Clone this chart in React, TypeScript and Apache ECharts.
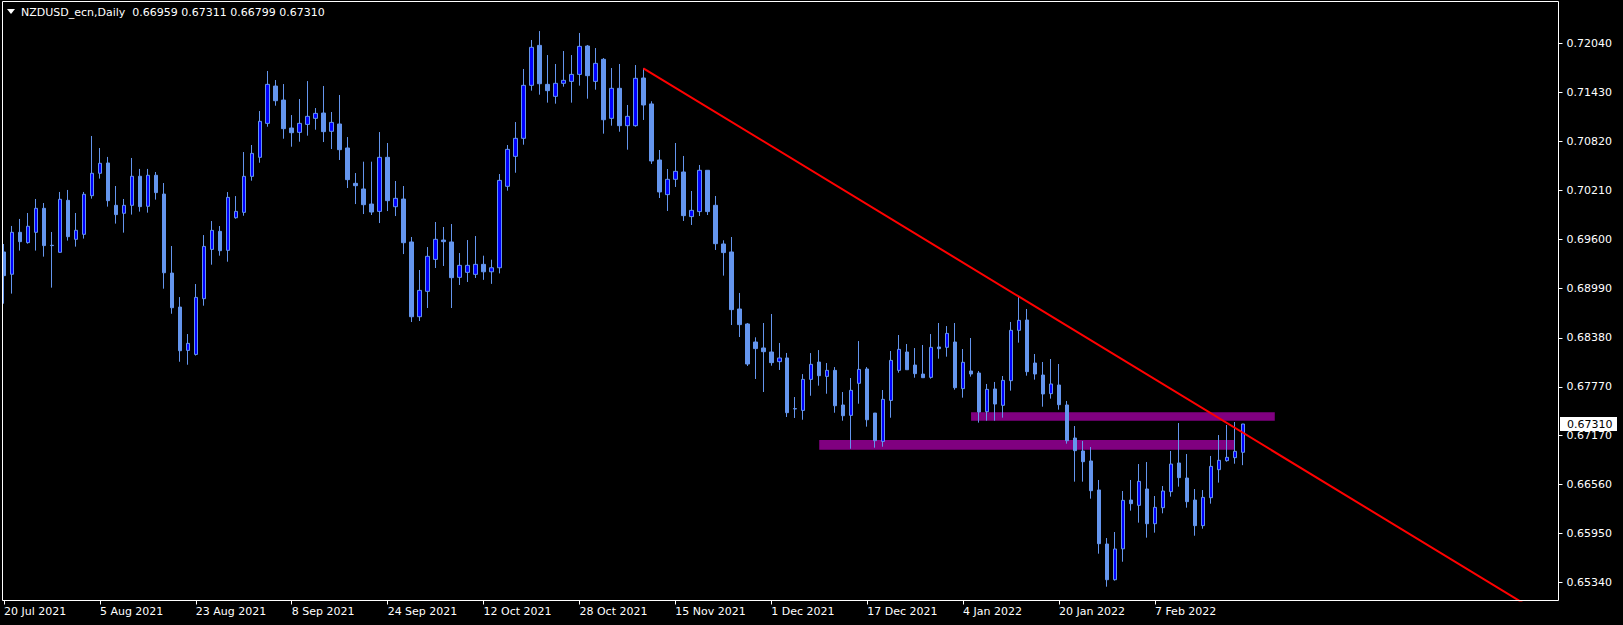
import React, { useEffect, useRef } from "react";
import * as echarts from "echarts";

const SYMBOL = "NZDUSD_ecn,Daily";
const START_DATE = "2021-07-20";
const FUTURE_SLOTS = 39;

const OPEN = [
  0.69446, 0.69169, 0.6969, 0.69562, 0.6969, 0.69988, 0.69529, 0.69442, 0.70087, 0.69603,
  0.69665, 0.70145, 0.70423, 0.70551, 0.70025, 0.69926, 0.70025, 0.70386, 0.70013, 0.70398,
  0.70165, 0.69184, 0.68762, 0.68224, 0.68174, 0.68866, 0.69478, 0.69702, 0.69466, 0.69871,
  0.69938, 0.70385, 0.70621, 0.71043, 0.71506, 0.71332, 0.70985, 0.70931, 0.7103, 0.71105,
  0.71171, 0.70944, 0.71035, 0.70737, 0.70298, 0.70228, 0.70041, 0.6995, 0.70621, 0.70008,
  0.70103, 0.6957, 0.68642, 0.68957, 0.69354, 0.69594, 0.6957, 0.69131, 0.69193, 0.69168,
  0.69292, 0.692, 0.6925, 0.70261, 0.70633, 0.70857, 0.71515, 0.72011, 0.71527, 0.71378,
  0.7154, 0.71564, 0.71651, 0.72003, 0.71564, 0.71838, 0.71105, 0.71478, 0.71014, 0.71014,
  0.71606, 0.71284, 0.70588, 0.70158, 0.70348, 0.70439, 0.69885, 0.69947, 0.7046, 0.70025,
  0.69545, 0.69446, 0.68738, 0.68552, 0.68328, 0.68254, 0.68204, 0.68084, 0.6813, 0.67501,
  0.67479, 0.67864, 0.68079, 0.67901, 0.67976, 0.67546, 0.67417, 0.67815, 0.67993, 0.67446,
  0.67094, 0.67603, 0.67976, 0.68204, 0.68042, 0.6793, 0.67889, 0.68266, 0.68262, 0.68328,
  0.67749, 0.67968, 0.67943, 0.67463, 0.67745, 0.67542, 0.67848, 0.68473, 0.68601, 0.68067,
  0.67918, 0.67687, 0.67794, 0.67546, 0.67136, 0.66975, 0.66851, 0.66491, 0.6582, 0.65377,
  0.6576, 0.66366, 0.663, 0.66503, 0.66072, 0.66271, 0.6647, 0.66826, 0.66639, 0.66366,
  0.66048, 0.66395, 0.66743, 0.66855, 0.66892, 0.66959,
];

const HIGH = [
  0.69545, 0.69769, 0.69856, 0.6993, 0.70104, 0.70054, 0.69694, 0.70191, 0.70216, 0.6993,
  0.70191, 0.70886, 0.70737, 0.70626, 0.70265, 0.70104, 0.70613, 0.70477, 0.70477, 0.70439,
  0.70302, 0.6952, 0.68886, 0.68427, 0.69048, 0.69656, 0.6983, 0.69768, 0.7019, 0.7014,
  0.70687, 0.70774, 0.71196, 0.71693, 0.71581, 0.71531, 0.71146, 0.71345, 0.71568, 0.71233,
  0.71507, 0.71184, 0.71395, 0.70873, 0.70426, 0.70567, 0.70567, 0.70935, 0.70799, 0.70327,
  0.70265, 0.69632, 0.69222, 0.69507, 0.69818, 0.69756, 0.69793, 0.69433, 0.69594, 0.69644,
  0.694, 0.6935, 0.70414, 0.70774, 0.71059, 0.71718, 0.72078, 0.72189, 0.71891, 0.7178,
  0.71941, 0.71891, 0.72165, 0.72016, 0.71978, 0.71854, 0.7173, 0.7178, 0.71271, 0.71767,
  0.71726, 0.71317, 0.70712, 0.70476, 0.70799, 0.70638, 0.70203, 0.70526, 0.7046, 0.70141,
  0.69591, 0.69632, 0.68937, 0.68564, 0.68386, 0.68564, 0.68676, 0.68316, 0.68192, 0.67645,
  0.6793, 0.68191, 0.68228, 0.68067, 0.68017, 0.67707, 0.67881, 0.6834, 0.68017, 0.67446,
  0.67732, 0.68216, 0.68415, 0.68303, 0.68253, 0.68291, 0.68427, 0.68564, 0.68526, 0.68564,
  0.68241, 0.68378, 0.67968, 0.67807, 0.67832, 0.67906, 0.68577, 0.68891, 0.68738, 0.68179,
  0.6808, 0.68117, 0.68055, 0.67596, 0.67285, 0.67099, 0.67024, 0.66615, 0.65894, 0.65969,
  0.66478, 0.66615, 0.66813, 0.66838, 0.66416, 0.6654, 0.66975, 0.67322, 0.66937, 0.66503,
  0.6649, 0.66913, 0.67173, 0.67298, 0.67335, 0.67311,
];

const LOW = [
  0.68804, 0.68929, 0.69463, 0.69549, 0.69463, 0.69388, 0.69003, 0.69438, 0.69587, 0.69512,
  0.69612, 0.70108, 0.70357, 0.70009, 0.69798, 0.69686, 0.6991, 0.69947, 0.69934, 0.70096,
  0.6899, 0.68679, 0.68083, 0.68046, 0.6816, 0.68779, 0.69288, 0.694, 0.69325, 0.69859,
  0.69896, 0.70331, 0.70554, 0.71001, 0.71262, 0.70852, 0.70753, 0.70815, 0.7089, 0.70964,
  0.70811, 0.70724, 0.70588, 0.7024, 0.70041, 0.69917, 0.69905, 0.69805, 0.69954, 0.69892,
  0.6942, 0.68576, 0.68589, 0.6875, 0.69247, 0.69272, 0.6875, 0.69036, 0.69073, 0.69123,
  0.691, 0.6905, 0.6918, 0.70207, 0.7043, 0.70778, 0.71449, 0.71399, 0.713, 0.71287,
  0.71498, 0.713, 0.71511, 0.71349, 0.71461, 0.70915, 0.71014, 0.70939, 0.70716, 0.71002,
  0.71085, 0.70539, 0.70116, 0.69955, 0.70253, 0.69831, 0.69781, 0.69893, 0.69905, 0.69471,
  0.69152, 0.68539, 0.6839, 0.6803, 0.67869, 0.67707, 0.68034, 0.67981, 0.67397, 0.67385,
  0.67363, 0.67661, 0.67786, 0.67686, 0.6745, 0.67351, 0.67003, 0.67562, 0.67277, 0.67016,
  0.67028, 0.67388, 0.67947, 0.67984, 0.67885, 0.67885, 0.67873, 0.68121, 0.68146, 0.67736,
  0.67637, 0.67898, 0.67327, 0.67351, 0.67351, 0.67389, 0.67724, 0.6832, 0.6791, 0.67861,
  0.67525, 0.67625, 0.67488, 0.67066, 0.66594, 0.66594, 0.66383, 0.657, 0.6529, 0.65365,
  0.656, 0.66234, 0.66085, 0.65899, 0.65961, 0.66201, 0.66408, 0.66532, 0.66271, 0.65923,
  0.6601, 0.66321, 0.66582, 0.66842, 0.66817, 0.66799,
];

const CLOSE = [
  0.69152, 0.6969, 0.69574, 0.69765, 0.69988, 0.69525, 0.69525, 0.701, 0.69636, 0.69715,
  0.70162, 0.70423, 0.70547, 0.70083, 0.6991, 0.70025, 0.70386, 0.70009, 0.70398, 0.70183,
  0.69188, 0.68754, 0.6822, 0.68311, 0.68882, 0.69515, 0.69714, 0.69462, 0.70124, 0.6995,
  0.70385, 0.7067, 0.71068, 0.71527, 0.71324, 0.70977, 0.70927, 0.71043, 0.7113, 0.71167,
  0.7094, 0.71055, 0.70716, 0.70344, 0.70269, 0.70033, 0.69942, 0.70621, 0.70083, 0.70112,
  0.69561, 0.68642, 0.68969, 0.69392, 0.69603, 0.69574, 0.69127, 0.6928, 0.6928, 0.69292,
  0.692, 0.6925, 0.70335, 0.7072, 0.70857, 0.71515, 0.71987, 0.71535, 0.71449, 0.7154,
  0.71577, 0.71651, 0.71999, 0.71635, 0.71788, 0.71088, 0.71478, 0.71014, 0.7113, 0.71602,
  0.71271, 0.70576, 0.70191, 0.70348, 0.70447, 0.69897, 0.69963, 0.7046, 0.69947, 0.69549,
  0.69438, 0.6873, 0.68544, 0.68055, 0.68246, 0.68208, 0.68072, 0.6813, 0.67451, 0.67497,
  0.67864, 0.68051, 0.6791, 0.67976, 0.67537, 0.67413, 0.67728, 0.67988, 0.67363, 0.67103,
  0.67616, 0.681, 0.68237, 0.67984, 0.67935, 0.67885, 0.68262, 0.68245, 0.68435, 0.67761,
  0.68076, 0.67931, 0.67459, 0.6774, 0.67558, 0.67852, 0.68473, 0.68597, 0.6796, 0.67931,
  0.67683, 0.67807, 0.6755, 0.67103, 0.66979, 0.66842, 0.66482, 0.65824, 0.65377, 0.65758,
  0.66362, 0.66321, 0.66598, 0.66072, 0.66275, 0.66478, 0.66813, 0.66644, 0.66346, 0.66048,
  0.66399, 0.66784, 0.66859, 0.66896, 0.66971, 0.6731,
];

const PRICE_TICKS = [
  0.7204, 0.7143, 0.7082, 0.7021, 0.696, 0.6899, 0.6838, 0.6777, 0.6717, 0.6656, 0.6595, 0.6534,
];

// trend line anchors: [bar index, price]
const TREND_FROM = [80, 0.71726];
const TREND_TO = [127, 0.68891];

// rectangles: [from bar, to bar, top price, bottom price]
const ZONE_UPPER = [121, 159, 0.67455, 0.67351];
const ZONE_LOWER = [102, 154, 0.67111, 0.66991];

const MONTHS = ["Jan", "Feb", "Mar", "Apr", "May", "Jun", "Jul", "Aug", "Sep", "Oct", "Nov", "Dec"];

function tradingDays(start: string, count: number): string[] {
  const out: string[] = [];
  const d = new Date(start + "T00:00:00Z");
  while (out.length < count) {
    const wd = d.getUTCDay();
    if (wd !== 0 && wd !== 6) {
      out.push(`${d.getUTCDate()} ${MONTHS[d.getUTCMonth()]} ${d.getUTCFullYear()}`);
    }
    d.setUTCDate(d.getUTCDate() + 1);
  }
  return out;
}

const FONT = "DejaVu Sans";

export default function App() {
  const ref = useRef<HTMLDivElement>(null);

  useEffect(() => {
    if (!ref.current) return;
    const chart = echarts.init(ref.current, undefined, { renderer: "svg" });
    const n = OPEN.length;
    const total = n + FUTURE_SLOTS;
    const dates = tradingDays(START_DATE, n);
    const categories = Array.from({ length: total }, (_, i) => (i < n ? dates[i] : ""));
    const candles = OPEN.map((o, i) => [o, CLOSE[i], LOW[i], HIGH[i]]);
    const showTick = (i: number) => i % 12 === 0 && i < n;

    const slope = (TREND_TO[1] - TREND_FROM[1]) / (TREND_TO[0] - TREND_FROM[0]);
    const lastIdx = total - 1;
    const trend = [
      [TREND_FROM[0], TREND_FROM[1]],
      [TREND_TO[0], TREND_TO[1]],
      [lastIdx, TREND_FROM[1] + slope * (lastIdx - TREND_FROM[0])],
    ];

    const fmt = (v: number) => v.toFixed(5);
    const last = n - 1;
    const titleText = `${SYMBOL}  ${fmt(OPEN[last])} ${fmt(HIGH[last])} ${fmt(LOW[last])} ${fmt(CLOSE[last])}`;

    chart.setOption({
      animation: false,
      backgroundColor: "#000000",
      grid: { left: -0.7, top: 1, width: 1559.2, height: 599.5, containLabel: false },
      xAxis: {
        type: "category",
        data: categories,
        boundaryGap: true,
        axisLine: { show: false },
        axisTick: {
          show: true,
          alignWithLabel: true,
          interval: (i: number) => showTick(i),
          length: 4,
          lineStyle: { color: "#ffffff", width: 1 },
        },
        axisLabel: {
          interval: (i: number) => showTick(i),
          color: "#ffffff",
          fontFamily: FONT,
          fontSize: 11,
          align: "left",
          margin: 5,
        },
        splitLine: { show: false },
      },
      yAxis: {
        type: "value",
        position: "right",
        min: 0.651186,
        max: 0.725621,
        axisLine: { show: false },
        axisTick: {
          show: true,
          customValues: PRICE_TICKS,
          length: 4,
          lineStyle: { color: "#ffffff", width: 1 },
        },
        axisLabel: {
          customValues: PRICE_TICKS,
          formatter: (v: number) => v.toFixed(5),
          color: "#ffffff",
          fontFamily: FONT,
          fontSize: 11,
          margin: 8,
        },
        splitLine: { show: false },
      },
      series: [
        {
          type: "custom",
          z: 1,
          clip: true,
          encode: { x: [0, 1], y: [2, 3] },
          data: [ZONE_UPPER, ZONE_LOWER],
          renderItem: (_params: any, api: any) => {
            const p0 = api.coord([api.value(0), api.value(2)]);
            const p1 = api.coord([api.value(1), api.value(3)]);
            return {
              type: "rect",
              shape: { x: p0[0], y: p0[1], width: p1[0] - p0[0], height: p1[1] - p0[1] },
              style: { fill: "#800080" },
            };
          },
        },
        {
          type: "candlestick",
          z: 2,
          data: candles,
          barWidth: 4,
          clip: true,
          itemStyle: {
            color: "#0000FF",
            color0: "#6495ED",
            borderColor: "#6495ED",
            borderColor0: "#6495ED",
            borderWidth: 1,
          },
        },
        {
          type: "line",
          z: 3,
          data: trend,
          symbol: "none",
          clip: true,
          lineStyle: { color: "#FF0000", width: 2 },
        },
      ],
    });

    const yLast = chart.convertToPixel({ yAxisIndex: 0 }, CLOSE[last]) as number;

    chart.setOption({
      graphic: [
        {
          type: "rect",
          shape: { x: 2.5, y: 1.5, width: 1556, height: 599 },
          style: { fill: "none", stroke: "#ffffff", lineWidth: 1 },
          z: 50,
          silent: true,
        },
        {
          type: "polygon",
          shape: { points: [[7, 9], [15, 9], [11, 14]] },
          style: { fill: "#ffffff" },
          z: 50,
        },
        {
          type: "text",
          x: 21,
          y: 12,
          style: {
            text: titleText,
            fill: "#ffffff",
            fontFamily: FONT,
            fontSize: 11,
            verticalAlign: "middle",
          },
          z: 50,
        },
        {
          type: "rect",
          shape: { x: 1560, y: yLast - 7, width: 57, height: 14 },
          style: { fill: "#ffffff" },
          z: 60,
        },
        {
          type: "text",
          x: 1567,
          y: yLast,
          style: {
            text: fmt(CLOSE[last]),
            fill: "#000000",
            fontFamily: FONT,
            fontSize: 11,
            verticalAlign: "middle",
          },
          z: 61,
        },
      ],
    });

    return () => chart.dispose();
  }, []);

  return (
    <div
      ref={ref}
      style={{ position: "absolute", left: 0, top: 0, width: 1623, height: 625, background: "#000" }}
    />
  );
}
